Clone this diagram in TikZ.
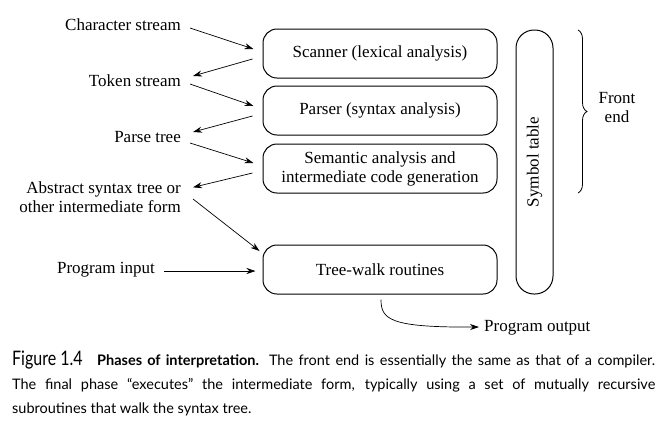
\documentclass[tikz,border=0pt]{standalone}
\usepackage{fontspec}
\setmainfont{Liberation Serif}
\newfontfamily\capfont{Lato}
\usetikzlibrary{arrows.meta,calc,decorations.pathreplacing}
\begin{document}
\begin{tikzpicture}[x=1pt,y=-1pt,
  box/.style={draw, line width=1pt, rounded corners=14pt, minimum width=234pt, minimum height=49pt, inner sep=0pt, align=center, font=\fontsize{17}{19}\selectfont},
  lbl/.style={anchor=east, align=right, inner sep=0pt, font=\fontsize{17}{19}\selectfont},
  arr/.style={-{Stealth[length=9pt,width=6pt]}, line width=0.7pt}]
\useasboundingbox (0,0) rectangle (666,440);
% boxes
\node[box] (scan) at (380,53.5) {Scanner (lexical analysis)};
\node[box] (pars) at (380,110.5) {Parser (syntax analysis)};
\node[box] (sem) at (380,168.5) {Semantic analysis and\\intermediate code generation};
\node[box] (tw) at (380,269.5) {Tree-walk routines};
\node[draw, line width=1pt, rounded corners=18pt, minimum width=264pt, minimum height=37pt, inner sep=0pt, rotate=90, font=\fontsize{17}{19}\selectfont] (sym) at (534.5,162) {Symbol table};
% labels
\node[lbl] (cs) at (181,25) {Character stream};
\node[lbl] (ts) at (181,81) {Token stream};
\node[lbl] (pt) at (181,137) {Parse tree};
\node[lbl] (ast) at (181,197) {Abstract syntax tree or\\other intermediate form};
\node[lbl] (pin) at (155,270) {Program input};
\node[anchor=west, inner sep=0pt, font=\fontsize{17}{19}\selectfont] (pout) at (484,328) {Program output};
\node[align=center, inner sep=0pt, font=\fontsize{17}{19}\selectfont] (fe) at (617,108) {Front\\end};
% arrows
\draw[arr] ($(cs.east)+(9,3)$) -- ($(scan.west)+(-9,-4.5)$);
\draw[arr] ($(scan.west)+(-10,5.5)$) -- ($(ts.east)+(12,-5)$);
\draw[arr] ($(ts.east)+(9,3)$) -- ($(pars.west)+(-9,-4.5)$);
\draw[arr] ($(pars.west)+(-10,5.5)$) -- ($(pt.east)+(12,-5)$);
\draw[arr] ($(pt.east)+(9,6)$) -- ($(sem.west)+(-9,-5.5)$);
\draw[arr] ($(sem.west)+(-10,4.5)$) -- ($(ast.north east)+(12,6)$);
\draw[arr] ($(ast.east)+(12,2)$) -- ($(tw.west)+(-3,-18.5)$);
\draw[arr] ($(pin.east)+(9,1)$) -- ($(tw.west)+(-7,1.5)$);
\draw[arr] ($(tw.south)+(1,5)$) .. controls ($(tw.south)+(1,25)$) and ($(tw.south)+(10,33)$) .. ($(pout.west)+(-5,-1)$);
% brace
\draw[line width=0.8pt, decorate, decoration={brace, amplitude=9pt}] (578,30) -- (578,193);
% caption
\node[anchor=north west, text width=643pt, align=justify, inner sep=0pt, font=\capfont\fontsize{14.5}{24}\selectfont] (cap) at (12,351)
 {{\fontsize{20}{24}\selectfont\scalebox{0.8}[1]{Figure 1.4}}\quad {\bfseries Phases of interpretation.} The front end is essentially the same as that of a compiler.\linebreak The final phase “executes” the intermediate form, typically using a set of mutually recursive\linebreak subroutines that walk the syntax tree.};
\end{tikzpicture}
\end{document}
